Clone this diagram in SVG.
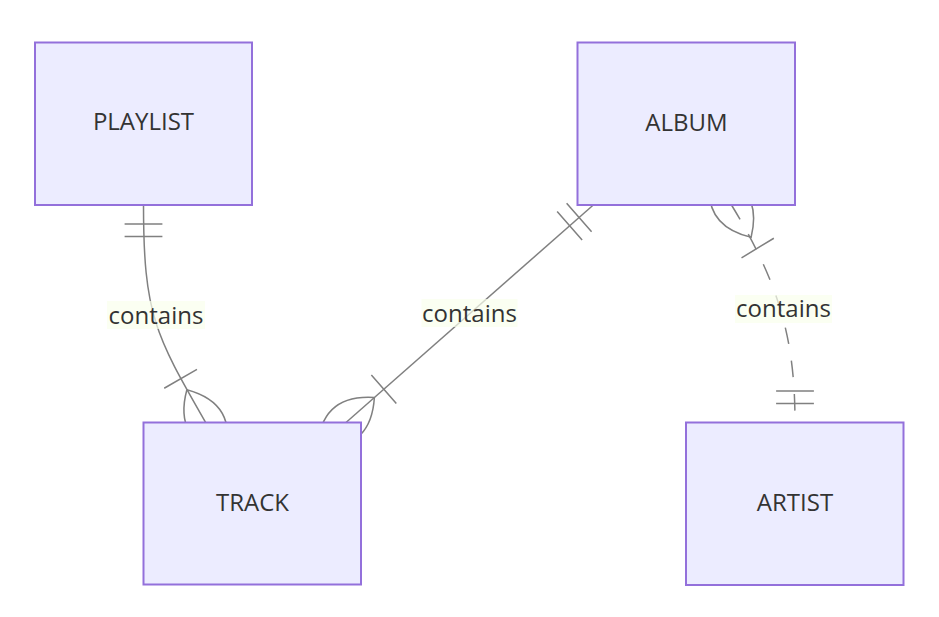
<svg xmlns="http://www.w3.org/2000/svg" width="939" height="617" viewBox="0 0 939 617">
  <style>
    .entity rect { fill: #ECECFF; stroke: #9370DB; stroke-width: 2; }
    .entity text { font-family: "Open Sans", "DejaVu Sans", sans-serif; font-size: 24px; fill: #333333; text-anchor: middle; }
    .rel { fill: none; stroke: #808080; stroke-width: 1.5; }
    .dashed { stroke-dasharray: 16.8 16.8; }
    .mk { fill: none; stroke: #808080; stroke-width: 0.72; }
    .lbl rect { fill: #F9FFEC; opacity: 0.7; }
    .lbl text { font-family: "Open Sans", "DejaVu Sans", sans-serif; font-size: 24px; fill: #333333; text-anchor: middle; }
  </style>
  <defs>
    <marker id="oneStart" viewBox="0 0 18 18" markerUnits="userSpaceOnUse" markerWidth="37.8" markerHeight="37.8" refX="0" refY="9" orient="auto" overflow="visible">
      <path class="mk" d="M9,0 L9,18 M15,0 L15,18"/>
    </marker>
    <marker id="oneEnd" viewBox="0 0 18 18" markerUnits="userSpaceOnUse" markerWidth="37.8" markerHeight="37.8" refX="18" refY="9" orient="auto" overflow="visible">
      <path class="mk" d="M3,0 L3,18 M9,0 L9,18"/>
    </marker>
    <marker id="manyEnd" viewBox="0 0 45 36" markerUnits="userSpaceOnUse" markerWidth="94.5" markerHeight="75.6" refX="27" refY="18" orient="auto" overflow="visible">
      <path class="mk" d="M3,9 L3,27 M9,18 Q27,0 45,18 Q27,36 9,18"/>
    </marker>
    <marker id="manyStart" viewBox="0 0 45 36" markerUnits="userSpaceOnUse" markerWidth="94.5" markerHeight="75.6" refX="18" refY="18" orient="auto" overflow="visible">
      <path class="mk" d="M0,18 Q18,0 36,18 Q18,36 0,18 M42,9 L42,27"/>
    </marker>
  </defs>
  <rect x="0" y="0" width="939" height="617" fill="#ffffff"/>
  <g id="connectors">
    <path class="rel" d="M143.5,205 C143.5,315 155.7,335.5 205.7,422.5" marker-start="url(#oneStart)" marker-end="url(#manyEnd)"/>
    <path class="rel" d="M593.3,205 L346,422.5" marker-start="url(#oneStart)" marker-end="url(#manyEnd)"/>
    <path class="rel dashed" d="M731.5,205 C780.9,286.3 795,342 795,422.5" marker-start="url(#manyStart)" marker-end="url(#oneEnd)"/>
    <g class="lbl">
      <rect x="107" y="301" width="98" height="28"/>
      <text x="156" y="323.5">contains</text>
    </g>
    <g class="lbl">
      <rect x="421.5" y="299" width="96" height="28"/>
      <text x="469.5" y="321.5">contains</text>
    </g>
    <g class="lbl">
      <rect x="735" y="295" width="97" height="28"/>
      <text x="783.5" y="316.5">contains</text>
    </g>
  </g>
  <g id="PLAYLIST" class="entity">
    <rect x="35" y="42.5" width="217" height="162.5"/>
    <text x="143.5" y="130">PLAYLIST</text>
  </g>
  <g id="ALBUM" class="entity">
    <rect x="577.5" y="42.5" width="217.5" height="162.5"/>
    <text x="686.5" y="130.5">ALBUM</text>
  </g>
  <g id="TRACK" class="entity">
    <rect x="143.5" y="422.5" width="217.5" height="162"/>
    <text x="252.5" y="510.5">TRACK</text>
  </g>
  <g id="ARTIST" class="entity">
    <rect x="686" y="422.5" width="217.5" height="162.5"/>
    <text x="795" y="510.5">ARTIST</text>
  </g>
</svg>
